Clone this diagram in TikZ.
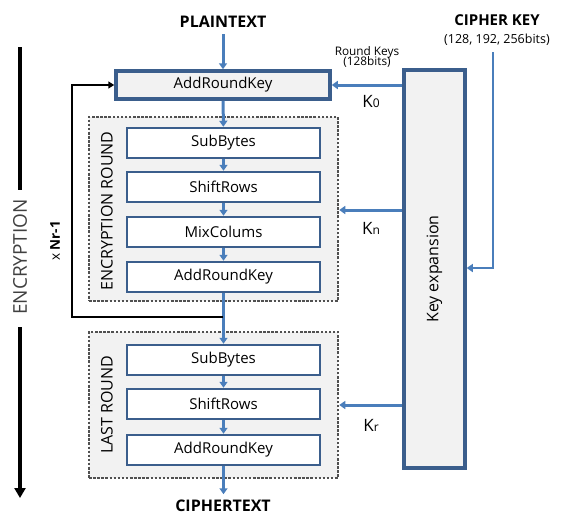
\documentclass[tikz,border=0pt]{standalone}
\usepackage{fontspec}
\setmainfont{Open Sans}
\usetikzlibrary{arrows.meta}
\definecolor{boxblue}{HTML}{3B5E8C}
\definecolor{arrblue}{HTML}{4A7EBB}
\definecolor{boxgray}{HTML}{F2F2F2}
\definecolor{dotgray}{HTML}{505050}
\begin{document}
\begin{tikzpicture}[x=1pt,y=-1pt,
  stage/.style={draw=boxblue,line width=2.5pt,fill=white,minimum width=193pt,minimum height=30pt,font=\fontsize{15}{15}\selectfont},
  round/.style={draw=dotgray,line width=2.5pt,dash pattern=on 2.5pt off 1.6pt,fill=boxgray,minimum width=249pt},
  flow/.style={arrblue,line width=3pt,-{Triangle[width=8pt,length=6pt]}},
  title/.style={font=\bfseries\fontsize{16}{16}\selectfont},
  klbl/.style={font=\fontsize{17}{17}\selectfont}]
\useasboundingbox (0,0) rectangle (563,528);
% main column
\node[title] (plain) at (223,22) {PLAINTEXT};
\node[stage,line width=3.5pt,fill=boxgray,minimum width=214pt,minimum height=28pt] (ark0) at (223,85) {AddRoundKey};
\node[round,minimum height=184pt] (enc) at (213.5,209) {};
\node[round,minimum height=146pt] (last) at (213.5,405) {};
\node[stage] (sb1) at (223.5,143) {SubBytes};
\node[stage] (sr1) at (223.5,187) {ShiftRows};
\node[stage] (mc) at (223.5,232) {MixColums};
\node[stage] (ark1) at (223.5,277) {AddRoundKey};
\node[stage] (sb2) at (223.5,360) {SubBytes};
\node[stage] (sr2) at (223.5,404) {ShiftRows};
\node[stage] (ark2) at (223.5,450) {AddRoundKey};
\node[title] (cipher) at (223,506) {CIPHERTEXT};
\node[rotate=90,font=\fontsize{16}{16}\selectfont] (enclbl) at (107,211) {ENCRYPTION ROUND};
\node[rotate=90,font=\fontsize{16}{16}\selectfont] (lastlbl) at (107,405) {LAST ROUND};
% key side
\node[draw=boxblue,line width=3.5pt,fill=boxgray,minimum width=61pt,minimum height=398pt] (kexp) at (434.5,269) {};
\node[rotate=90,font=\fontsize{16}{16}\selectfont] (kexplbl) at (kexp.center) {Key expansion};
\node[title,font=\bfseries\fontsize{15}{15}\selectfont] (ckey) at (497,20) {CIPHER KEY};
\node[font=\fontsize{12.5}{12.5}\selectfont] (cbits) at (497,40) {(128, 192, 256bits)};
\node[font=\fontsize{11.8}{11.8}\selectfont,align=center] (rk) at (367,57) {Round Keys\\[-1pt](128bits)};
\node[klbl] (k0) at (371,101) {K{\fontsize{12}{12}\selectfont 0}};
\node[klbl] (kn) at (371,228) {K{\fontsize{12}{12}\selectfont n}};
\node[klbl] (kr) at (371,425) {K{\fontsize{12}{12}\selectfont r}};
% arrows
\draw[flow] (plain.south) ++(0,3) -- (ark0.north);
\draw[flow] (ark0) -- (sb1);
\draw[flow] (sb1) -- (sr1);
\draw[flow] (sr1) -- (mc);
\draw[flow] (mc) -- (ark1);
\draw[flow] (ark1) -- (sb2);
\draw[flow] (sb2) -- (sr2);
\draw[flow] (sr2) -- (ark2);
\draw[flow] (ark2.south) -- ++(0,28);
\coordinate (loop) at (223,317);
\draw[line width=2pt,-{Triangle[width=7pt,length=6pt]}] (loop) -- (72,317) -- (72,85) -- (ark0.west);
\node[rotate=90,font=\fontsize{13.5}{13.5}\selectfont] (nr) at (55,241) {x \textbf{Nr-1}};
\draw[flow] (kexp.west |- ark0.east) -- (ark0.east);
\draw[flow] (kexp.west |- 0,210) -- (enc.east |- 0,210);
\draw[flow] (kexp.west |- 0,405) -- (last.east |- 0,405);
\coordinate (ktop) at (493,52);
\draw[flow,line width=2.6pt] (ktop) -- (493,268) -- (kexp.east |- 0,268);
% encryption direction
\draw[line width=3.5pt] (20,47) -- (20,190);
\node[rotate=90,text=black!75,font=\fontsize{19}{19}\selectfont] (encdir) at (20,257) {ENCRYPTION};
\draw[line width=3.5pt,-{Triangle[width=11pt,length=10pt]}] (20,327) -- (20,498);
\end{tikzpicture}
\end{document}
